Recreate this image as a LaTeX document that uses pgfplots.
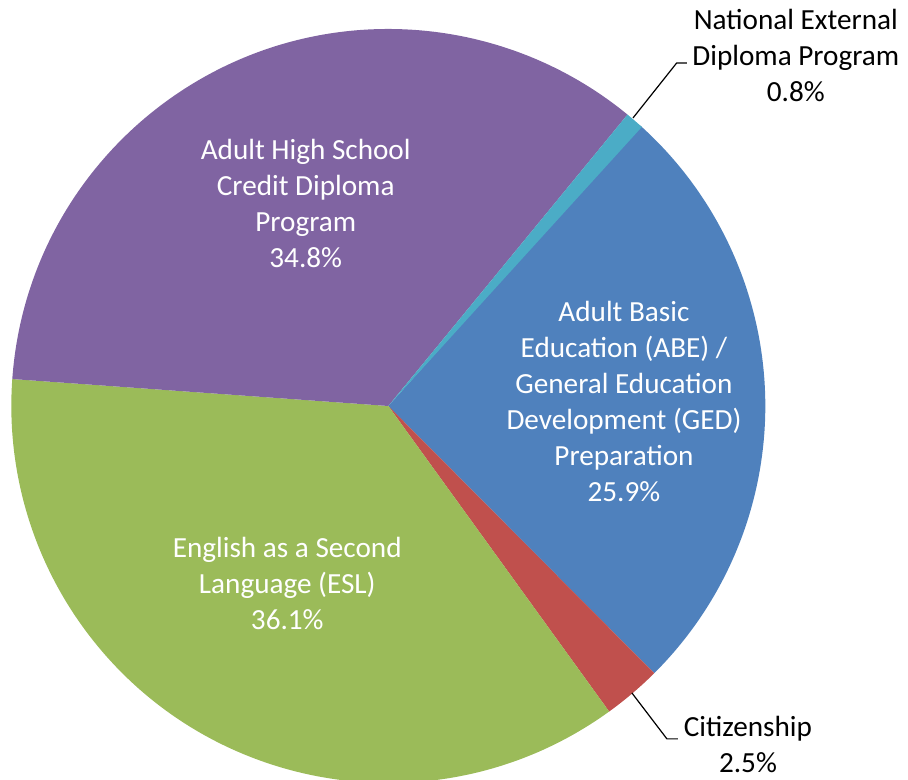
\documentclass[border=0pt]{standalone}
\usepackage{pgfplots}
\usepackage{pgfplotstable}
\pgfplotsset{compat=1.18}
\usepackage{fontspec}
\setmainfont{Carlito}

\definecolor{abe}{HTML}{4F81BD}
\definecolor{cit}{HTML}{C0504D}
\definecolor{esl}{HTML}{9BBB59}
\definecolor{ahs}{HTML}{8064A2}
\definecolor{ned}{HTML}{4BACC6}

\tikzset{lbl/.style={font=\fontsize{14.6}{18}\selectfont, align=center}}

% shares in percent, clockwise from the first slice
\pgfplotstableread{
value colour
25.9  abe
2.5   cit
36.1  esl
34.8  ahs
0.8   ned
}\piedata

\begin{document}
\begin{tikzpicture}
\begin{axis}[
  x=188.5pt, y=188.5pt,
  xmin=-1.030, xmax=1.3785, ymin=-0.992, ymax=1.0769,
  hide axis,
]
\gdef\pieS{48.1}
\pgfplotsforeachungrouped \i in {0,...,4}{
  \pgfplotstablegetelem{\i}{value}\of\piedata \let\pieV\pgfplotsretval
  \pgfplotstablegetelem{\i}{colour}\of\piedata \let\pieC\pgfplotsretval
  \pgfmathsetmacro\pieE{\pieS-3.6*\pieV}
  \edef\temp{\noexpand\fill[\pieC] (axis cs:0,0) -- (axis cs:{cos(\pieS)},{sin(\pieS)})
    arc[start angle=\pieS, end angle=\pieE, radius=188.5pt] -- cycle;}
  \temp
  \global\let\pieS\pieE
}
\node[lbl, white] at (axis cs:-0.219,0.538) {Adult High School\\Credit Diploma\\Program\\34.8\%};
\node[lbl, white] at (axis cs:0.625,0.013) {Adult Basic\\Education (ABE) /\\General Education\\Development (GED)\\Preparation\\25.9\%};
\node[lbl, white] at (axis cs:-0.268,-0.472) {English as a Second\\Language (ESL)\\36.1\%};
\node[lbl, black] at (axis cs:1.081,0.931) {National External\\Diploma Program\\0.8\%};
\node[lbl, black] at (axis cs:0.954,-0.899) {Citizenship\\2.5\%};
\draw[black, line width=0.6pt] (axis cs:0.649,0.764) -- (axis cs:0.765,0.910) -- (axis cs:0.792,0.910);
\draw[black, line width=0.6pt] (axis cs:0.646,-0.761) -- (axis cs:0.739,-0.883) -- (axis cs:0.768,-0.883);
\end{axis}
\pgfresetboundingbox
\useasboundingbox (current axis.south west) rectangle (current axis.north east);
\end{tikzpicture}
\end{document}
